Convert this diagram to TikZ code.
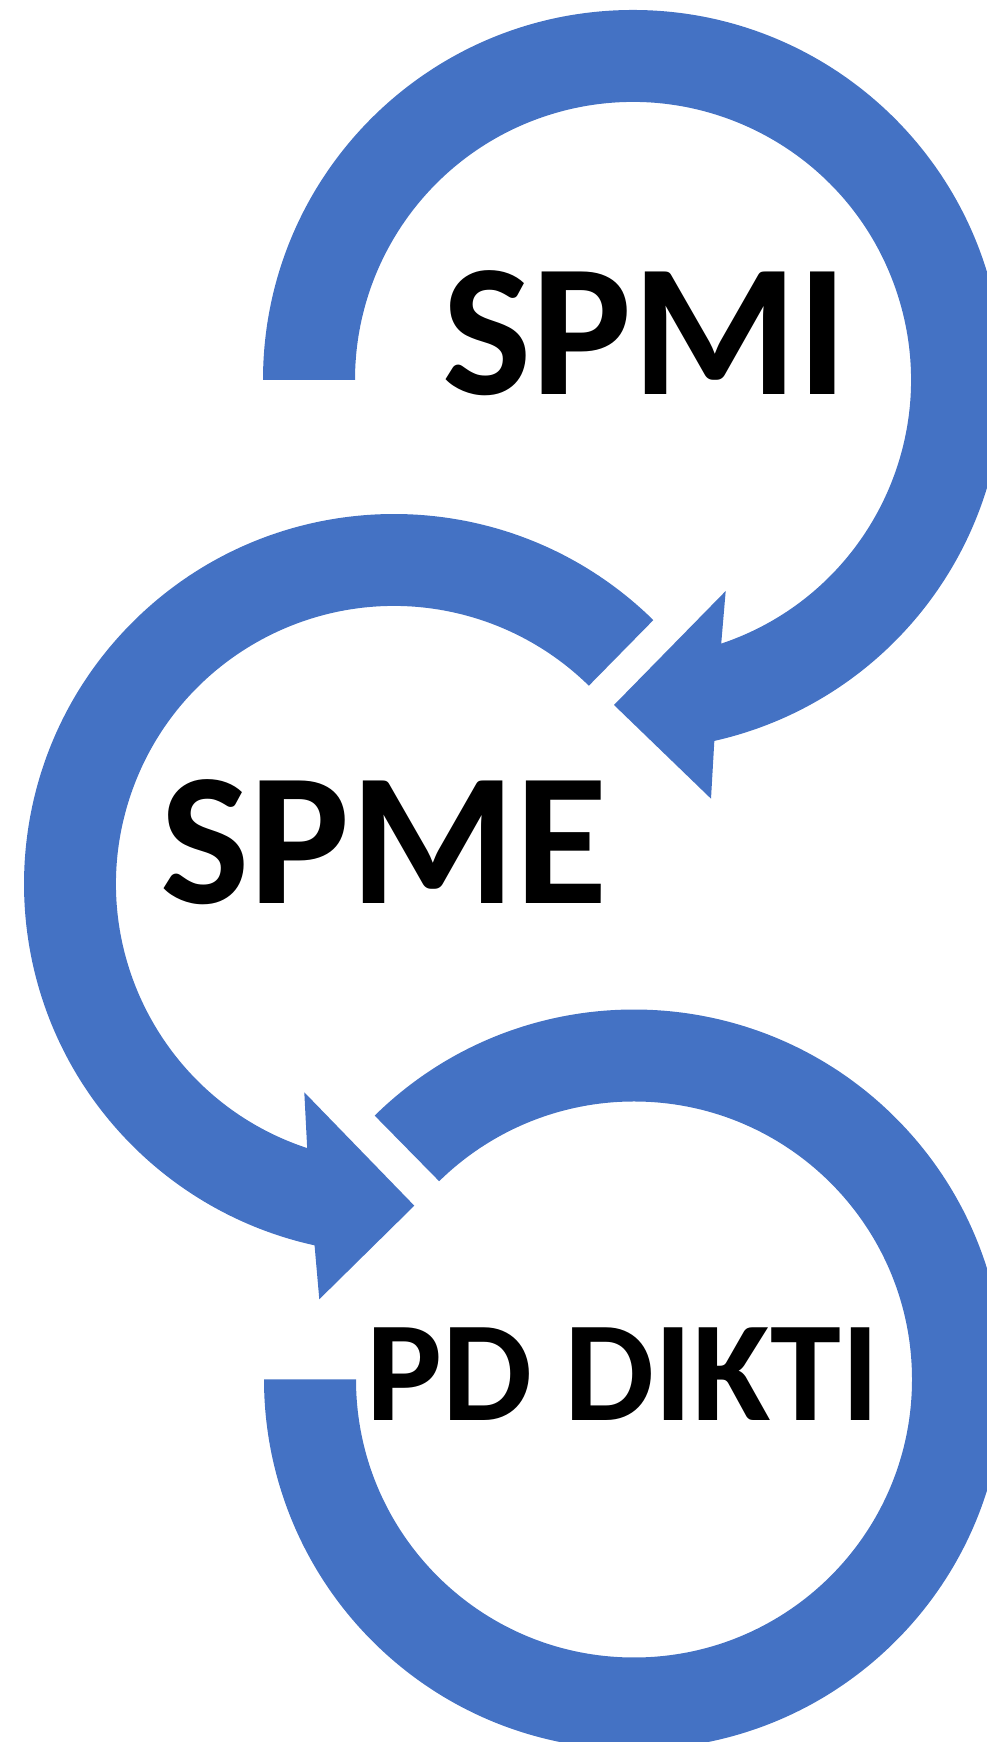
\documentclass[tikz,border=0pt]{standalone}
\usepackage{fontspec}
\setmainfont{Carlito}
\definecolor{ringblue}{HTML}{4472C4}
\begin{document}
\begin{tikzpicture}[x=1pt,y=1pt,
    ring/.style={fill=ringblue,draw=none},
    lbl/.style={anchor=base,inner sep=0pt,font=\bfseries\fontsize{189}{189}\selectfont}]
    \useasboundingbox (0,0) rectangle (987,1742);
    \clip (0,0) rectangle (987,1742);
    \coordinate (c1) at (633,1362);
    \coordinate (c2) at (394,858);
    \coordinate (c3) at (634,362.5);
    \begin{scope}[shift={(c1)}]
    \fill [ring] (180:370) arc (180:-77.3:370) -- (78,-418.7) -- (-19,-325) -- (92.7,-211)
        -- (-71.5:278) arc (-71.5:180:278) -- cycle;
    \end{scope}
    \begin{scope}[shift={(c2)}]
    \fill [ring] (45.5:370) arc (45.5:257.6:370) -- (-74.7,-415.3) -- (20.3,-321.7) -- (-89.7,-208.3)
        -- (251.8:278) arc (251.8:45.5:278) -- cycle;
    \end{scope}
    \begin{scope}[shift={(c3)}]
    \fill [ring] (134.5:370) arc (134.5:-180:370) -- (180:278) arc (-180:134.5:278) -- cycle;
    \end{scope}
    \node [lbl] (spmi) at (645,1347) {SPMI};
    \node [lbl] (spme) at (384,838) {SPME};
    \node [lbl,font=\bfseries\fontsize{143}{143}\selectfont] (pddikti) at (623,321) {PD DIKTI};
\end{tikzpicture}
\end{document}
